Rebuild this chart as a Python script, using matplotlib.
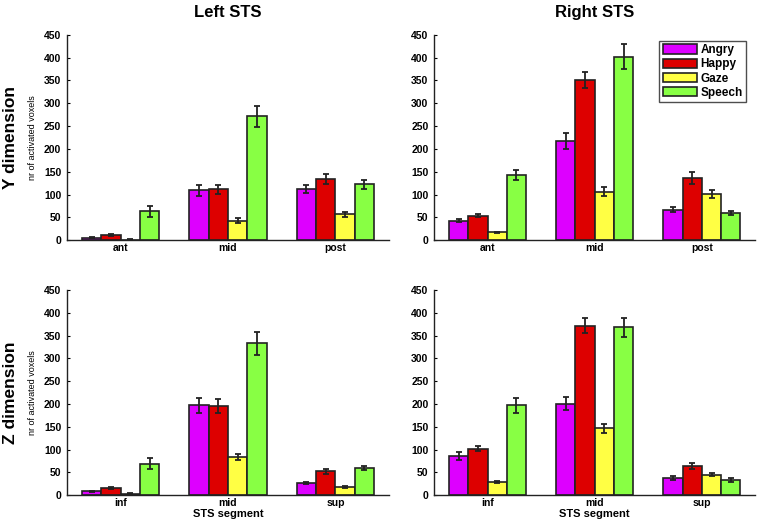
import numpy as np
import matplotlib
matplotlib.use('Agg')
import matplotlib.pyplot as plt

plt.rcParams['font.family'] = ['Liberation Sans', 'DejaVu Sans']
plt.rcParams['font.weight'] = 'bold'

conditions = ['Angry', 'Happy', 'Gaze', 'Speech']
colors = ['#dd00ff', '#dd0000', '#ffff44', '#88ff44']

y_segments = ['ant', 'mid', 'post']
z_segments = ['inf', 'mid', 'sup']

# rows: Angry, Happy, Gaze, Speech ; columns: segments
left_y = [[6, 109, 112], [11, 112, 135], [1.5, 43, 57], [63, 272, 123]]
left_y_err = [[1, 12, 9], [2, 10, 11], [0.5, 5, 5], [11, 23, 10]]
right_y = [[43, 218, 67], [54, 351, 136], [17, 106, 101], [142, 402, 59]]
right_y_err = [[4, 18, 6], [3, 18, 13], [2, 10, 8], [11, 27, 4]]
left_z = [[8, 197, 27], [15, 195, 52], [3, 83, 18], [69, 333, 59]]
left_z_err = [[1, 17, 2], [2, 15, 5], [1, 7, 2], [12, 26, 4]]
right_z = [[85, 201, 37], [102, 372, 64], [29, 147, 45], [197, 368, 33]]
right_z_err = [[9, 15, 4], [5, 17, 6], [2, 10, 4], [16, 20, 4]]

fig = plt.figure(figsize=(7.6, 5.2), dpi=100)
ax_tl = fig.add_axes([0.088, 0.538, 0.424, 0.395])
ax_tr = fig.add_axes([0.571, 0.538, 0.423, 0.395])
ax_bl = fig.add_axes([0.088, 0.048, 0.424, 0.394])
ax_br = fig.add_axes([0.571, 0.048, 0.423, 0.394])

bar_w = 0.18
x = np.arange(1, 4)


def draw(ax, vals, errs, labels):
    for i in range(4):
        xs = x + (i - 1.5) * bar_w
        ax.bar(xs, vals[i], bar_w, color=colors[i], edgecolor='#222222',
               linewidth=1.2, label=conditions[i], zorder=2)
        ax.errorbar(xs, vals[i], yerr=errs[i], fmt='none', ecolor='#222222',
                    elinewidth=1.3, capsize=2, capthick=1.3, zorder=3)
    ax.set_xlim(0.5, 3.5)
    ax.set_ylim(0, 450)
    ax.set_yticks(np.arange(0, 451, 50))
    ax.set_xticks(x)
    ax.set_xticklabels(labels)
    for s in ['top', 'right']:
        ax.spines[s].set_visible(False)
    for s in ['left', 'bottom']:
        ax.spines[s].set_linewidth(1.0)
        ax.spines[s].set_color('#222222')
    ax.tick_params(axis='y', direction='in', length=2, labelsize=7.5, pad=4)
    ax.tick_params(axis='x', length=0, labelsize=7.5, pad=2)


draw(ax_tl, left_y, left_y_err, y_segments)
draw(ax_tr, right_y, right_y_err, y_segments)
draw(ax_bl, left_z, left_z_err, z_segments)
draw(ax_br, right_z, right_z_err, z_segments)

ax_tl.set_title('Left STS', fontsize=12, fontweight='bold', pad=13)
ax_tr.set_title('Right STS', fontsize=12, fontweight='bold', pad=13)

for ax, name in [(ax_tl, 'Y dimension'), (ax_bl, 'Z dimension')]:
    ax.text(-0.175, 0.5, name, transform=ax.transAxes, rotation=90,
            ha='center', va='center', fontsize=12.5, fontweight='bold')
    ax.text(-0.108, 0.5, 'nr of activated voxels', transform=ax.transAxes,
            rotation=90, ha='center', va='center', fontsize=6.5,
            fontweight='normal', fontstretch='condensed')

for ax in [ax_bl, ax_br]:
    ax.set_xlabel('STS segment', fontsize=8, fontweight='bold', labelpad=1)

leg = ax_tr.legend(loc='upper right', bbox_to_anchor=(0.99, 1.0),
                   fontsize=8.5, frameon=True, fancybox=False,
                   handlelength=2.9, handleheight=0.85, labelspacing=0.18,
                   borderpad=0.3, handletextpad=0.3)
leg.get_frame().set_edgecolor('#222222')
leg.get_frame().set_linewidth(1.0)

fig.savefig('out.png', dpi=100)
